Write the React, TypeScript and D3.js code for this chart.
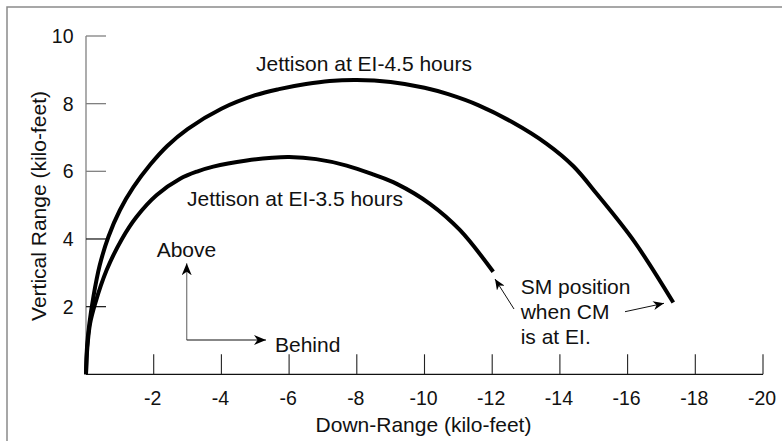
import React from "react";
import * as d3 from "d3";

// ---- data ----
const xTicks = [-2, -4, -6, -8, -10, -12, -14, -16, -18, -20];
const yTicks = [2, 4, 6, 8, 10];

// Jettison at EI-4.5 hours (down-range kft, vertical kft)
const jet45X = [0, -0.03, -0.1, -0.22, -0.4, -0.66, -1.0, -1.4, -1.9, -2.4, -3.0, -4.0, -5.0, -5.7, -6.5, -7.2, -8.0, -9.0, -10.0, -10.7, -11.6, -12.6, -13.6, -14.4, -15.1, -16.2, -17.35];
const jet45Y = [0, 0.8, 1.5, 2.3, 3.2, 4.06, 4.85, 5.53, 6.2, 6.75, 7.25, 7.85, 8.25, 8.43, 8.58, 8.67, 8.7, 8.64, 8.47, 8.28, 7.95, 7.45, 6.82, 6.15, 5.32, 3.92, 2.12];

// Jettison at EI-3.5 hours
const jet35X = [0, -0.04, -0.12, -0.27, -0.61, -1.05, -1.49, -2.09, -2.78, -3.3, -3.76, -4.75, -5.5, -6.0, -6.8, -7.7, -8.5, -9.18, -10.16, -11.05, -12.03];
const jet35Y = [0, 0.8, 1.5, 2.09, 3.08, 3.98, 4.65, 5.3, 5.78, 6.0, 6.14, 6.32, 6.4, 6.42, 6.36, 6.17, 5.9, 5.63, 5.04, 4.26, 3.03];

const curveLabels = ["Jettison at EI-4.5 hours", "Jettison at EI-3.5 hours"];
const xTitle = "Down-Range (kilo-feet)";
const yTitle = "Vertical Range (kilo-feet)";
const smNote = ["SM position", "when CM", "is at EI."];

const FONT = "'Liberation Sans', Arial, Helvetica, sans-serif";

export default function App() {
  const x = d3.scaleLinear().domain([0, -20]).range([86, 763]);
  const y = d3.scaleLinear().domain([0, 10]).range([374.3, 36]);

  const line = d3
    .line<[number, number]>()
    .x((d) => x(d[0]))
    .y((d) => y(d[1]))
    .curve(d3.curveCatmullRom.alpha(0.5));

  const p45 = line(jet45X.map((v, i) => [v, jet45Y[i]] as [number, number])) || "";
  const p35 = line(jet35X.map((v, i) => [v, jet35Y[i]] as [number, number])) || "";

  const tickCol = (v: number) => (v >= 6 ? "#808080" : "#222");

  return (
    <svg
      width={782}
      height={441}
      style={{ position: "absolute", left: 0, top: 0, background: "#fff" }}
      fontFamily={FONT}
    >
      <defs>
        <marker id="ah" viewBox="0 0 12 10" refX={12} refY={5} markerWidth={12} markerHeight={10} markerUnits="userSpaceOnUse" orient="auto">
          <path d="M0,0 L12,5 L0,10 L3.5,5 Z" fill="#000" />
        </marker>
        <marker id="ahs" viewBox="0 0 12 10" refX={12} refY={5} markerWidth={11} markerHeight={9} markerUnits="userSpaceOnUse" orient="auto">
          <path d="M0,0 L12,5 L0,10 L3.5,5 Z" fill="#000" />
        </marker>
      </defs>

      {/* frame */}
      <rect x={7} y={7} width={800} height={500} fill="none" stroke="#8a8a8a" strokeWidth={1.5} />

      {/* y axis */}
      <line x1={x(0)} x2={x(0)} y1={y(10)} y2={y(0)} stroke="#808080" strokeWidth={1.3} />
      {yTicks.map((v) => (
        <g key={"yt" + v}>
          <line x1={x(0)} x2={x(0) + 20} y1={y(v)} y2={y(v)} stroke={tickCol(v)} strokeWidth={1.3} />
          <text x={73.5} y={y(v) + 7} textAnchor="end" fontSize={19.5} fill="#111">
            {String(v)}
          </text>
        </g>
      ))}

      {/* x axis */}
      <line x1={x(0)} x2={x(-20)} y1={y(0)} y2={y(0)} stroke="#111" strokeWidth={1.3} />
      {xTicks.map((v) => (
        <g key={"xt" + v}>
          <line x1={x(v)} x2={x(v)} y1={y(0)} y2={y(0) - 20} stroke="#222" strokeWidth={1.1} />
          <text x={x(v) - 1} y={405} textAnchor="middle" fontSize={19.5} fill="#111">
            {String(v)}
          </text>
        </g>
      ))}

      {/* axis titles */}
      <text x={423.5} y={432} textAnchor="middle" fontSize={21} fill="#111">
        {xTitle}
      </text>
      <text transform={`translate(45.5,206) rotate(-90)`} textAnchor="middle" fontSize={21} fill="#111">
        {yTitle}
      </text>

      {/* curves */}
      <path d={p45} fill="none" stroke="#000" strokeWidth={4} />
      <path d={p35} fill="none" stroke="#000" strokeWidth={4} />

      {/* curve labels */}
      <text x={256} y={71} fontSize={21} fill="#111">
        {curveLabels[0]}
      </text>
      <text x={187} y={205.5} fontSize={21} fill="#111">
        {curveLabels[1]}
      </text>

      {/* direction arrows */}
      <line x1={186.7} y1={340} x2={186.7} y2={263.3} stroke="#808080" strokeWidth={1.3} markerEnd="url(#ah)" />
      <line x1={186.7} y1={340} x2={266} y2={340} stroke="#111" strokeWidth={1.2} markerEnd="url(#ah)" />
      <text x={156.7} y={256.5} fontSize={21} fill="#111">
        Above
      </text>
      <text x={275} y={351.5} fontSize={21} fill="#111">
        Behind
      </text>

      {/* SM note */}
      {smNote.map((s, i) => (
        <text key={"sm" + i} x={520.7} y={294 + i * 25} fontSize={21} fill="#111">
          {s}
        </text>
      ))}
      <line x1={514} y1={309} x2={495} y2={279} stroke="#111" strokeWidth={1} markerEnd="url(#ahs)" />
      <line x1={625} y1={311.7} x2={664} y2={303.3} stroke="#111" strokeWidth={1} markerEnd="url(#ahs)" />
    </svg>
  );
}
